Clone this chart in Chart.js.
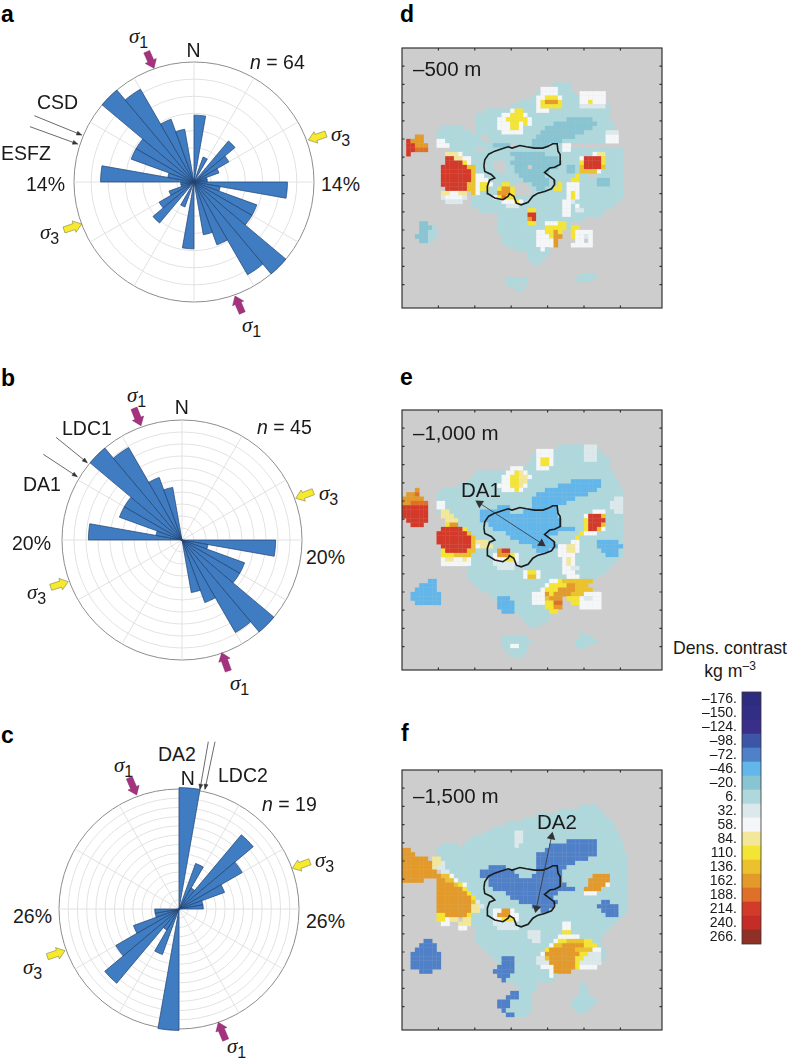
<!DOCTYPE html>
<html>
<head>
<meta charset="utf-8">
<title>Rose diagrams and density contrast</title>
<script src="https://cdn.jsdelivr.net/npm/chart.js@4"></script>
<style>
  html, body { margin: 0; background: #fff; }
  #page { position: relative; width: 788px; height: 1059px; overflow: hidden; font-family: "Liberation Sans", Arial, sans-serif; color: #1a1a1a; }
  canvas { position: absolute; filter: blur(0.4px); }
  svg { position: absolute; left: 0; top: 0; pointer-events: none; }
  .lbl { position: absolute; white-space: nowrap; transform: translateY(-50%); font-size: 19.5px; line-height: 1; }
  .panel { font-size: 23px; font-weight: bold; color: #000; }
  .sig { font-family: "Liberation Serif", serif; font-size: 21px; }
  .sig sub { font-size: 16px; font-family: "Liberation Sans", sans-serif; vertical-align: -5px; line-height: 0; }
  .cb { font-size: 17.7px; transform: translate(-50%, -50%); }
  .cb sup { font-size: 12px; line-height: 0; }
  .n { transform: translate(-50%, -50%); }
  .depth { font-size: 20.5px; }
</style>
</head>
<body>
<div id="page"></div>
<script>
// percent of strikes in each 10 degree bin, clockwise from N
const roseA = [7.8, 0, 3.1, 0, 6.25, 4.7, 3.1, 1.56, 1.56, 10.9, 3.1, 7.8, 7.8, 14, 12.5, 7.8, 6.25, 0,
               7.8, 0, 3.1, 0, 6.25, 4.7, 3.1, 1.56, 1.56, 10.9, 3.1, 7.8, 7.8, 14, 12.5, 7.8, 6.25, 0];
const roseB = [0, 0, 0, 0, 0, 0, 0, 0, 0, 15.6, 4.4, 11.1, 11.1, 20, 17.8, 11.1, 8.9, 0,
               0, 0, 0, 0, 0, 0, 0, 0, 0, 15.6, 4.4, 11.1, 11.1, 20, 17.8, 11.1, 8.9, 0];
const roseC = [26.3, 0, 10.5, 5.26, 21, 15.8, 10.5, 5.26, 5.26, 0, 0, 0, 0, 0, 0, 0, 0, 0,
               26.3, 0, 10.5, 5.26, 21, 15.8, 10.5, 5.26, 5.26, 0, 0, 0, 0, 0, 0, 0, 0, 0];
const binLabels = roseA.map((v, i) => (i * 10) + '-' + (i * 10 + 10));

// colour bar
const levelLabels = ['–176.', '–150.', '–124.', '–98.', '–72.', '–46.', '–20.', '6.', '32.', '58.', '84.', '110.', '136.', '162.', '188.', '214.', '240.', '266.'];
const levelColors = ['#2e2c7e', '#322d86', '#3a2e8a', '#3d55a6', '#4f80c8', '#62b6ea', '#88c4d2', '#aed8dc', '#dce9ec', '#f4f6f8', '#f3e89a', '#f4e534', '#ebc22e', '#e39a2a', '#df7029', '#d33a2a', '#c42c26', '#8f2f26'];
// letter used in the grids below -> level
const levelCode = { m: '–72.', b: '–46.', t: '–20.', a: '6.', p: '32.', w: '58.', c: '84.', y: '110.', g: '136.', o: '162.', r: '188.', s: '214.', d: '240.' };

// density grids: row -> painted column runs, later runs overwrite earlier ones, "." clears
const rowsD = {
  8: 'a35-38', 9: 'a36-38 w32-35', 10: 'a31-39 w32-35 w41-46',
  11: 'a30-46 w31-36 y33-35 w41-46', 12: 'a27-46 w31-36 y32-36 o33-35 w41-46 y43',
  13: 'a25-47 w31-36 y32-36 p41-46', 14: 'a19-47 w31-33 w25-27 y26-27',
  15: 'a17-47 w23-28 y25-27', 16: 'a17-47 w22-29 y24-28 t38-43',
  17: 'a17-48 w22-29 y25-26 y28 t35-44', 18: 'a9-13 a17-48 w22-27 y25-26 t33-43',
  19: 'a8-15 a17-48 w23-27 t32-41 p47-49', 20: 'a8-17 a20-49 t31-39 w47-49 o3-4',
  21: 'a8-18 a20-49 t30-36 w47-49 w8-9 s1 o2-4',
  22: 'a9-21 a26-38 t21-24 t30-33 w8-10 s1-2 y3 o3-5 w37-38',
  23: 'a11-16 a19-50 s1-2 r3-5 w37-38',
  24: 'a12-50 c10-12 w13 t25-32 s1 w44 c45-46',
  25: 'a14-50 t26-35 s10-11 c12-13 w14-15 w41 s42-45 y46',
  26: 'a14-50 t25-36 .21-23 s10-13 y14 w15 y41 s42-45 y46',
  27: 'a16-50 t26-35 t38-39 .21-23 .29 s9-14 g15-16 g41 s42-45 g46',
  28: 'a16-50 t26-33 t38-39 .22-23 s9-15 g16 g41-44 w45',
  29: 'a18-50 t27-32 .43-44 s9-15 g16 w17-18 y40',
  30: 'a18-50 t28-33 t45-47 s9-15 g16 w17-19 y39-40',
  31: 'a20-50 t30-33 t45-47 .26-28 s9-14 g15-16 w17-20 y18-19 y23-24 y36 w38-40',
  32: 'a19-50 t31-32 .25-29 s10-14 g15-16 w17-19 y18-19 w22 y22-25 o23-24 y35-36 w38-40',
  33: 'a16-50 .26-29 w9-14 c9-10 c13-14 g16 w17 y22-25 o22-24 w38-40 y39',
  34: 'a16-50 p9-14 w10-13 w21-22 y22-25 r23 w38-40 y39',
  35: 'a16-49 p10-13 w23-27 y26 w37-38 p39', 36: 'a16-48 p24-26 w37-38 w40',
  37: 'a18-46 y29-30 w37-38 p40-41', 38: 'a22-45 y29 s29-30 w37-38', 39: 'a22-41 o29 s30',
  40: 'a22-38 w29-30 y29-30 w33-35 y36-37 t4-5',
  41: 'a4-7 t4-6 a22-38 y33-37 y39-40', 42: 'a4-7 t4-5 a22-34 w31-33 y33-36 o35 y39 w40-43',
  43: 'a3-7 t3-5 a23-33 w31-33 y34 o35-36 y39 w40-43 p42', 44: 'a4-6 t4-5 a23-33 w31-33 w34 o35 w40-43 .42',
  45: 'a24-33 w31-33 w34 o35 w39-43', 46: 'a26-33 w32', 47: 'a29-33', 48: 'a29-32', 49: 'a30-31',
  52: 'a41-44', 53: 'a24-28 a40-43', 54: 'a24-26 a28', 55: 'a26-27'
};
const rowsE = {
  8: 'a36-41 p42-44', 9: 'a31-45 p42-44 w31-34', 10: 'a30-46 w31-34 p42-44',
  11: 'a30-47 w31-34 y32-33 p42-44', 12: 'a29-47 w31-34 y32-33', 13: 'a25-47 w31-33 w25-27',
  14: 'a17-48 w24-28 c26-27 y26', 15: 'a16-48 w23-29 y25-26 c27-28',
  16: 'a15-49 w23-28 y25-27 c27-28 b39-45', 17: 'a13-49 w22-28 y25-26 c27 b36-45',
  18: 'a9-50 w23-27 y26 b33-44 o3', 19: 'a8-50 b31-42 o1-3 r3',
  20: 'a8-50 b30-39 o0-4 p49-50', 21: 'a8-50 b30-37 w8-9 r0-5 o0-1 p48-50',
  22: 'a8-50 b22-24 b30-35 w8-9 s0-5 p48-50', 23: 'a8-50 b18-24 b28-35 c9-10 s0-5 w44-46 p49-50',
  24: 'a9-50 b18-35 c9-11 s0-5 w42 s43-46 g46', 25: 'a10-50 b18-36 c10-12 s1-5 y42 s43-46',
  26: 'a11-50 b20-36 y10-12 o11-12 s2-4 y42 s43-45 g46', 27: 'a14-50 b21-39 s9-13 y14 y42 s43-44 g45 w46',
  28: 'a15-50 b24-35 s8-14 g15 y41 w42-44', 29: 'a15-50 b25-33 s8-15 g16 y40',
  30: 'a17-50 b27-34 b45-49 s8-15 g16 c17-19 w39-40', 31: 'a17-50 b30-35 b45-50 s9-15 g16 c18-20 w17 w36-37 w38-40 c38-39',
  32: 'a17-50 b31-33 b46-49 y9-15 s10-14 g15-16 w22 o22-24 s23-24 w36-37 w38-40 c38-39',
  33: 'a16-50 b47-49 y9-11 g12-15 w21-26 o22-24 y25 w36-39', 34: 'a16-49 w9-15 c10-11 c14 w21-26 y24-25 w37-39 c38',
  35: 'a16-48 w9-15 p21-26 w37-39 c38', 36: 'a15-47 p22-25 w37-39 p39-40', 37: 'a15-46 w28-31 y29-30 w37-39',
  38: 'a15-44 w28-31 g29-30 w38-40', 39: 'a16-42 b6-7 w34-37 y36 g37-43',
  40: 'a17-40 b4-7 w33-35 y34-37 o38-39 g40-42', 41: 'a18-40 b3-7 w32-34 y33-37 o36-39 g40-43',
  42: 'a20-33 b2-8 w30-33 o33-37 y34 o37-38 g39-41 w42-45', 43: 'a21-33 b2-8 b22-24 w30-33 g33-35 o34-36 y38-40 w41-45 p42-43',
  44: 'a22-33 b3-8 b22-25 w30-33 y33-34 r35-36 y39-40 w41-45', 45: 'a23-33 b22-25 y33-35 o35-36 w41-45',
  46: 'a25-33 b23-25 y34-35', 47: 'a27-33', 48: 'a28-33', 49: 'a29-31', 51: 'a41',
  52: 'a23-28 a41-43', 53: 'a23-29 a40-44', 54: 'a23-28 w25-26 a40-42', 55: 'a24-28', 56: 'a25-27'
};
const rowsF = {
  8: 'a41-44', 9: 'a36-45', 10: 'a31-46', 11: 'a28-47', 12: 'a24-48', 13: 'a21-48',
  14: 'a19-49 p26-27', 15: 'a16-49 p26-27', 16: 'a15-50 p26-27 m38-44', 17: 'a9-12 a14-50 p26 m34-44',
  18: 'a8-50 m33-44 o0-1', 19: 'a8-51 m31-44 o0-2', 20: 'a8-51 m31-42 o0-5 c7-8',
  21: 'a8-51 m31-39 o0-6 c7-8 p9', 22: 'a9-51 m20-23 m31-37 o0-6 c7-8 p8-9',
  23: 'a9-51 m18-25 m31-36 o0-7 p9-10', 24: 'a10-51 m18-26 m30-36 o0-8 g9-10 w11 w45-47 o44-47',
  25: 'a11-51 m20-36 o0-4 o8-10 g10-11 w12 w43 o43-47', 26: 'a13-51 m20-37 o8-12 g12 y13 w14 o43-46 w47',
  27: 'a15-51 m21-39 o8-13 y14 w42-45 o42-45', 28: 'a15-51 m24-35 o8-14 y15 w42-44',
  29: 'a15-51 m25-34 o8-15 y16', 30: 'a17-51 m27-35 m46-47 o8-15 g16 p17',
  31: 'a17-51 m30-34 m45-49 o8-15 c16-17 p18', 32: 'a17-51 m32-33 m46-49 o8-15 c16-17 w21-25 o23-24',
  33: 'a16-50 m47-49 y8-9 o10-14 y15 w21-26 o22-24', 34: 'a16-49 y8-9 w10 c11-12 c14-15 w21-26 y23-25',
  35: 'a16-48 w9-10 c13-15 p21-25 w37-38', 36: 'a17-47 w13-14 w37-38 p22-26',
  37: 'a17-46 y37-38 p29-31', 38: 'a17-45 w36-40 p29-31 w37-38', 39: 'a17-45 m5-6 p30-31 w35 y36-43 g38-41',
  40: 'a18-45 m4-7 w34-35 g35-43 o37-41 y42-44', 41: 'a19-46 m3-7 y33-35 o34-41 g40-43 w44-45',
  42: 'a20-46 m2-8 w32 y33 o33-40 y41-43 p43-45', 43: 'a21-46 m2-8 p31-32 g33 o34-40 y40-41 p42-45 m23-25',
  44: 'a22-45 m2-8 m23-25 p31-33 o34-39 y40 p41-45', 45: 'a22-44 m2-8 m22-25 w32-34 o35-39 y40 w41-44',
  46: 'a23-36 m4-6 m21-25 w34 o35-38', 47: 'a24-35 m22-24 w34', 48: 'a24-34 m23', 49: 'a26-30 a41',
  50: 'a27-30 a41-42', 51: 'a27-29 m25-26 a41-42', 52: 'a25-29 m24-26 a40-43', 53: 'a24-29 m22-24 a39-44',
  54: 'a24-29 m22-24 a39-43', 55: 'a24-29 m23 a40-42', 56: 'a25-28 m24-25'
};

// caldera outline, in grid columns and rows
const outlineX = [18.9, 19.1, 20, 21.4, 22.9, 24.5, 25.4, 27.2, 28.7, 30.6, 32.5, 33.7, 34.8, 35.8, 36, 36.5, 36.5, 35.2, 34.1, 32.9, 34.1, 35.1, 35.2, 34.5, 32.9, 31.4, 30.2, 29.1, 27.5, 26.4, 25.8, 24.8, 24.5, 23.3, 21.4, 19.8, 19.7, 20.2, 21.4, 20.6, 19.1, 18.9];
const outlineY = [27.2, 25.8, 24.5, 23.8, 23.3, 22.8, 23.1, 22.5, 22.8, 23.1, 23.1, 22.7, 22.1, 22.1, 23.8, 24.6, 26.9, 27.5, 27.7, 28.7, 29.6, 30.4, 31.5, 32.5, 33.1, 33.5, 34.2, 35.6, 36.2, 35.8, 34.2, 33.6, 34.2, 35, 34.6, 33.6, 31.9, 30.5, 30, 29.2, 28.5, 27.2];

Chart.defaults.animation = false;
Chart.defaults.plugins.legend.display = false;
Chart.defaults.plugins.tooltip.enabled = false;
Chart.defaults.font.family = '"Liberation Sans", Arial, sans-serif';

const page = document.getElementById('page');

function addCanvas(left, top, width, height) {
  const c = document.createElement('canvas');
  c.width = width;
  c.height = height;
  c.style.left = left + 'px';
  c.style.top = top + 'px';
  page.appendChild(c);
  return c;
}

function drawRose(values, maxPct, cx, cy) {
  const c = addCanvas(cx - 122, cy - 122, 244, 244);
  new Chart(c, {
    type: 'polarArea',
    data: {
      labels: binLabels,
      datasets: [{ data: values, backgroundColor: '#3f7cc2', borderColor: '#1f4270', borderWidth: 0.7 }]
    },
    options: {
      responsive: false,
      layout: { padding: 2, autoPadding: false },
      scales: {
        r: {
          min: 0,
          max: maxPct,
          ticks: { display: false, stepSize: 2 },
          grid: { circular: true, lineWidth: 1, color: ctx => ctx.tick.value === maxPct ? '#8d8d8d' : '#e2e2e2' },
          angleLines: { display: true, lineWidth: 1, color: ctx => ctx.index % 3 === 0 ? '#e2e2e2' : 'rgba(0,0,0,0)' }
        }
      }
    }
  });
}

const mapFrame = {
  id: 'mapFrame',
  beforeDatasetsDraw(chart) {
    const a = chart.chartArea;
    chart.ctx.fillStyle = '#cdcdcd';
    chart.ctx.fillRect(a.left, a.top, a.width, a.height);
  },
  afterDatasetsDraw(chart) {
    const a = chart.chartArea, ctx = chart.ctx;
    ctx.save();
    ctx.strokeStyle = '#333';
    ctx.lineWidth = 1.2;
    ctx.strokeRect(a.left, a.top, a.width, a.height);
    ctx.beginPath();
    chart.scales.x.ticks.forEach(t => {
      if (t.value === 0 || t.value === 60) return;
      const px = chart.scales.x.getPixelForValue(t.value);
      ctx.moveTo(px, a.top); ctx.lineTo(px, a.top + 2.5);
      ctx.moveTo(px, a.bottom); ctx.lineTo(px, a.bottom - 2.5);
    });
    chart.scales.y.ticks.forEach(t => {
      if (t.value === 0 || t.value === 60) return;
      const py = chart.scales.y.getPixelForValue(t.value);
      ctx.moveTo(a.left, py); ctx.lineTo(a.left + 2.5, py);
      ctx.moveTo(a.right, py); ctx.lineTo(a.right - 2.5, py);
    });
    ctx.stroke();
    ctx.restore();
  }
};

function cellsFromRows(rows) {
  const cells = [];
  Object.keys(rows).forEach(r => {
    const line = {};
    rows[r].split(' ').forEach(run => {
      const m = run.match(/^([a-z.])(\d+)(?:-(\d+))?$/);
      const end = m[3] ? +m[3] : +m[2];
      for (let col = +m[2]; col <= end; col++) line[col] = m[1];
    });
    Object.keys(line).forEach(col => {
      if (line[col] !== '.') cells.push({ x: +col + 0.5, y: +r + 0.5, code: line[col] });
    });
  });
  return cells;
}

function drawMap(rows, top, arrow) {
  const c = addCanvas(401, top - 1, 262, 262);
  const cells = cellsFromRows(rows);
  const datasets = [
    {
      data: outlineX.map((x, i) => ({ x: x, y: outlineY[i] })),
      showLine: true, pointRadius: 0, borderColor: '#1c1c1c', borderWidth: 1.6
    },
    {
      data: cells,
      showLine: false, pointStyle: 'rect', pointRadius: 3.25, pointBorderWidth: 0,
      pointBackgroundColor: cells.map(p => levelColors[levelLabels.indexOf(levelCode[p.code])])
    }
  ];
  if (arrow) {
    datasets.unshift({
      data: arrow.points,
      showLine: true, borderColor: '#333', borderWidth: 0.8,
      pointStyle: 'triangle', pointRadius: 5, pointBackgroundColor: '#333', pointBorderWidth: 0,
      pointRotation: arrow.rotation
    });
  }
  new Chart(c, {
    type: 'scatter',
    data: { datasets: datasets },
    options: {
      responsive: false,
      layout: { padding: 1, autoPadding: false },
      scales: {
        x: { display: false, min: 0, max: 60, ticks: { stepSize: 4.2 } },
        y: { display: false, min: 0, max: 60, reverse: true, ticks: { stepSize: 4.2 } }
      }
    },
    plugins: [mapFrame]
  });
}

function drawColorBar() {
  const c = addCanvas(670, 691, 92, 254);
  new Chart(c, {
    type: 'bar',
    data: {
      labels: levelLabels,
      datasets: [{ data: levelLabels.map(() => 1), backgroundColor: levelColors, barPercentage: 1, categoryPercentage: 1 }]
    },
    options: {
      indexAxis: 'y',
      responsive: false,
      layout: { padding: { top: 1, bottom: 1, right: 1 }, autoPadding: false },
      scales: {
        x: { display: false, min: 0, max: 1 },
        y: {
          afterFit(scale) { scale.width = 72; scale.paddingTop = 0; scale.paddingBottom = 0; },
          grid: { display: false, tickLength: 0 },
          border: { display: false },
          ticks: { autoSkip: false, color: '#1a1a1a', padding: 5, font: { size: 14 } }
        }
      }
    },
    plugins: [{
      id: 'barFrame',
      afterDatasetsDraw(chart) {
        const a = chart.chartArea;
        chart.ctx.strokeStyle = '#333';
        chart.ctx.lineWidth = 0.8;
        chart.ctx.strokeRect(a.left, a.top, a.width, a.height);
      }
    }]
  });
}

drawRose(roseA, 14, 194, 181.5);
drawRose(roseB, 20, 181.7, 539.5);
drawRose(roseC, 26, 178.8, 909);

drawMap(rowsD, 48, null);
drawMap(rowsE, 410, { points: [{ x: 17.9, y: 21.5 }, { x: 32.2, y: 30.8 }], rotation: [-57, 123] });
drawMap(rowsF, 770, { points: [{ x: 34.5, y: 15.4 }, { x: 31, y: 31.9 }], rotation: [12, 192] });

drawColorBar();

// annotations: text, left, centre y, class
const s1 = '<i>σ</i><sub>1</sub>', s3 = '<i>σ</i><sub>3</sub>';
const labels = [
  ['a', 1, 14, 'panel'], ['b', 1, 378, 'panel'], ['c', 1, 735, 'panel'],
  ['d', 400, 14, 'panel'], ['e', 400, 377, 'panel'], ['f', 401, 733, 'panel'],
  [s1, 129, 36, 'sig'], ['N', 193.5, 51, 'n'], ['<i>n</i> = 64', 250, 63, ''], ['CSD', 37, 103, ''], ['ESFZ', 1, 154, ''],
  ['14%', 26, 185, ''], ['14%', 321, 185, ''], [s3, 331, 134, 'sig'], [s3, 40, 232, 'sig'], [s1, 242, 325, 'sig'],
  [s1, 127, 395, 'sig'], ['N', 181.7, 408, 'n'], ['<i>n</i> = 45', 257, 428, ''], ['LDC1', 62, 429, ''], ['DA1', 23, 485, ''],
  ['20%', 12, 544, ''], ['20%', 306, 558, ''], [s3, 319, 493, 'sig'], [s3, 27, 592, 'sig'], [s1, 230, 683, 'sig'],
  [s1, 114, 765, 'sig'], ['DA2', 158, 755, ''], ['N', 187.7, 779, 'n'], ['LDC2', 218, 776, ''], ['<i>n</i> = 19', 262, 805, ''],
  ['26%', 13, 917, ''], ['26%', 306, 922, ''], [s3, 315, 860, 'sig'], [s3, 23, 967, 'sig'], [s1, 227, 1046, 'sig'],
  ['–500 m', 413, 69, 'depth'], ['–1,000 m', 413, 433, 'depth'], ['–1,500 m', 413, 796, 'depth'],
  ['DA1', 461, 490, 'depth'], ['DA2', 537, 822, 'depth'],
  ['Dens. contrast', 730, 649, 'cb'], ['kg m<sup>–3</sup>', 730, 672, 'cb']
];
labels.forEach(l => {
  const d = document.createElement('div');
  d.className = 'lbl ' + l[3];
  d.innerHTML = l[0];
  d.style.left = l[1] + 'px';
  d.style.top = l[2] + 'px';
  page.appendChild(d);
});

// stress arrows and lineament pointers, tip then tail
const magentaArrows = [[154, 68.3, 146.7, 51.7], [235, 296, 242.3, 313], [141, 425.7, 134, 408.3], [221.7, 652.7, 228.3, 671], [136.7, 795, 129.3, 777.7], [218.3, 1022.3, 225.7, 1040]];
const yellowArrows = [[308.3, 140, 326, 134], [81.7, 224, 64, 230], [295.7, 498.3, 313.3, 491.7], [68.3, 581.7, 50.7, 587.3], [292.3, 868.3, 310, 861.7], [65, 950.7, 47.3, 956.7]];
const thinArrows = [[81.7, 135, 34.3, 115.7], [77.7, 144, 30, 126.7], [87.3, 462.7, 56, 437.3], [77.3, 476.7, 43.3, 454.3], [200, 789.3, 208.3, 741.7], [205, 789.3, 215, 741.7]];

function localPath(a, shape) {
  const dx = a[2] - a[0], dy = a[3] - a[1], len = Math.hypot(dx, dy);
  const ux = dx / len, uy = dy / len;
  return shape.map(p => (a[0] + ux * p[0] - uy * p[1]).toFixed(1) + ',' + (a[1] + uy * p[0] + ux * p[1]).toFixed(1)).join(' ');
}

const NS = 'http://www.w3.org/2000/svg';
const svg = document.createElementNS(NS, 'svg');
svg.setAttribute('width', 788);
svg.setAttribute('height', 1059);
page.appendChild(svg);

function addPoly(points, fill, stroke) {
  const p = document.createElementNS(NS, 'polygon');
  p.setAttribute('points', points);
  p.setAttribute('fill', fill);
  p.setAttribute('stroke', stroke);
  p.setAttribute('stroke-width', 0.5);
  svg.appendChild(p);
}

function blockArrow(a, fill, stroke) {
  const len = Math.hypot(a[2] - a[0], a[3] - a[1]);
  addPoly(localPath(a, [[0, 0], [8, -6], [8, -3.2], [len, -3.2], [len, 3.2], [8, 3.2], [8, 6]]), fill, stroke);
}

magentaArrows.forEach(a => blockArrow(a, '#a5327f', '#7d2a63'));
yellowArrows.forEach(a => blockArrow(a, '#f6e92e', '#6b6a3a'));
thinArrows.forEach(a => {
  const line = document.createElementNS(NS, 'line');
  line.setAttribute('x1', a[0]); line.setAttribute('y1', a[1]);
  line.setAttribute('x2', a[2]); line.setAttribute('y2', a[3]);
  line.setAttribute('stroke', '#444');
  line.setAttribute('stroke-width', 0.8);
  svg.appendChild(line);
  addPoly(localPath(a, [[0, 0], [5, -2], [5, 2]]), '#333', '#333');
});
</script>
</body>
</html>
